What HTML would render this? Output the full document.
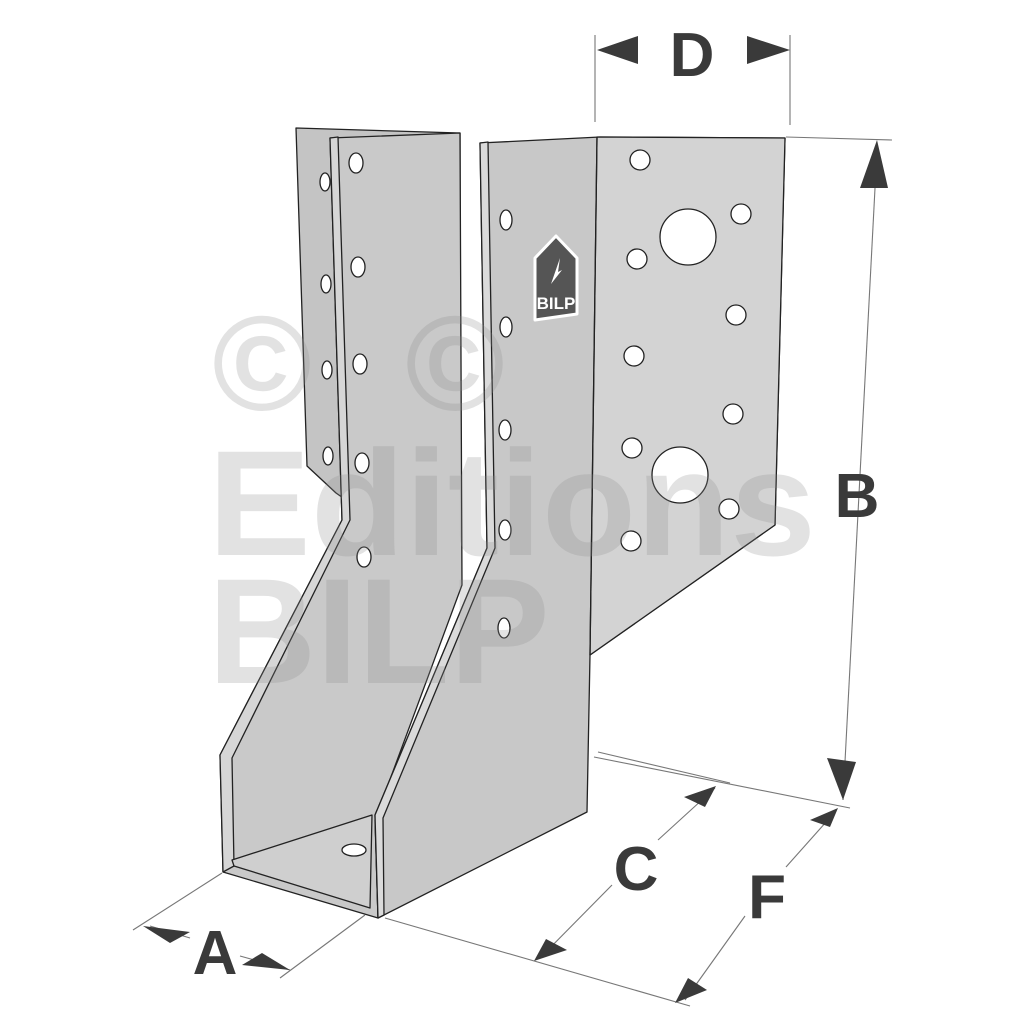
<!DOCTYPE html>
<html><head><meta charset="utf-8"><style>html,body{margin:0;padding:0;background:#fff}svg{display:block}</style></head>
<body>
<svg width="1024" height="1024" viewBox="0 0 1024 1024" xmlns="http://www.w3.org/2000/svg" font-family="Liberation Sans, DejaVu Sans, sans-serif">
<rect width="1024" height="1024" fill="#fff"/>
<g stroke="#222" stroke-width="1.3" stroke-linejoin="round">
<polygon points="296,128 460,133 460,580 336,493 307,466" fill="#c4c4c4"/>
<polygon points="330,138 460,133 462,585 375,820 378,918 223,872 220,755 342,520" fill="#c9c9c9"/>
<polygon points="330,138 338,137 350,520 232,758 234,866 223,872 220,755 342,520" fill="#d6d6d6"/>
<polygon points="234,866 370,908 372,815 232,860" fill="#cfcfcf"/>
<polygon points="480,143 600,137 785,138 775,525 590,655 587,812 378,918 375,815 487,548" fill="#c8c8c8"/>
<polygon points="597,137 785,138 775,525 590,655" fill="#d3d3d3"/>
<polygon points="480,143 488,142 495,548 383,818 384,915 378,918 375,815 487,548" fill="#dadada"/>
<line x1="597" y1="137" x2="590" y2="655"/>
</g>
<g fill="#fff" stroke="#222" stroke-width="1.3">
<ellipse cx="325" cy="182" rx="5" ry="9"/><ellipse cx="326" cy="284" rx="5" ry="9"/><ellipse cx="327" cy="370" rx="5" ry="9"/><ellipse cx="328" cy="456" rx="5" ry="9"/>
<ellipse cx="356" cy="163" rx="7" ry="10"/><ellipse cx="358" cy="267" rx="7" ry="10"/><ellipse cx="360" cy="364" rx="7" ry="10"/><ellipse cx="362" cy="463" rx="7" ry="10"/><ellipse cx="364" cy="557" rx="7" ry="10"/>
<ellipse cx="506" cy="220" rx="6" ry="10"/><ellipse cx="506" cy="327" rx="6" ry="10"/><ellipse cx="505" cy="430" rx="6" ry="10"/><ellipse cx="505" cy="530" rx="6" ry="10"/><ellipse cx="504" cy="628" rx="6" ry="10"/>
<circle cx="640" cy="160" r="10"/><circle cx="688" cy="237" r="28"/><circle cx="741" cy="214" r="10"/><circle cx="637" cy="259" r="10"/><circle cx="736" cy="315" r="10"/><circle cx="634" cy="356" r="10"/><circle cx="733" cy="414" r="10"/><circle cx="632" cy="448" r="10"/><circle cx="680" cy="475" r="28"/><circle cx="729" cy="509" r="10"/><circle cx="631" cy="541" r="10"/>
<ellipse cx="354" cy="850" rx="12" ry="6"/>
</g>
<path d="M535,258 L556,236 L577,258 L577,314 L535,320 Z" fill="#555" stroke="#fff" stroke-width="3" stroke-linejoin="round"/>
<text x="556" y="309" font-size="17" font-weight="bold" fill="#fff" text-anchor="middle">BILP</text>
<path d="M551,284 L560,258 L558,272 L562,270 Z" fill="#fff"/>
<g fill="rgb(140,140,140)" fill-opacity="0.25" font-weight="bold">
<text x="262" y="410" font-size="135" text-anchor="middle">©</text>
<text x="455" y="410" font-size="135" text-anchor="middle">©</text>
<text x="208" y="555" font-size="150" textLength="608" lengthAdjust="spacingAndGlyphs">Editions</text>
<text x="208" y="683" font-size="150">BILP</text>
</g>
<g stroke="#777" stroke-width="1.1" fill="none">
<line x1="595" y1="35" x2="595" y2="122"/><line x1="790" y1="35" x2="790" y2="125"/>
<line x1="786" y1="137" x2="892" y2="140"/>
<line x1="877" y1="150" x2="843" y2="800"/>
<line x1="598" y1="752" x2="730" y2="783"/><line x1="594" y1="757" x2="850" y2="808"/>
<line x1="385" y1="918" x2="690" y2="1006"/>
<line x1="540" y1="958" x2="612" y2="885"/><line x1="658" y1="840" x2="715" y2="788"/>
<line x1="685" y1="1000" x2="745" y2="916"/><line x1="786" y1="867" x2="835" y2="812"/>
<line x1="133" y1="930" x2="222" y2="873"/><line x1="280" y1="978" x2="365" y2="915"/>
<line x1="150" y1="926" x2="190" y2="938"/><line x1="240" y1="956" x2="290" y2="970"/>
</g>
<g fill="#3a3a3a">
<polygon points="597,50 638,36 638,64"/><polygon points="790,50 747,36 747,64"/>
<polygon points="877,140 860,188 888,188"/><polygon points="843,800 827,758 856,762"/>
<polygon points="716,786 684,797 705,807"/><polygon points="534,961 567,950 546,939"/>
<polygon points="838,808 810,820 830,827"/><polygon points="675,1003 707,990 688,978"/>
<polygon points="143,926 190,932 170,943"/><polygon points="290,970 242,965 262,953"/>
</g>
<g fill="#3a3a3a" font-weight="bold" font-size="62">
<text x="692" y="76" text-anchor="middle">D</text>
<text x="857" y="517" text-anchor="middle">B</text>
<text x="636" y="890" text-anchor="middle">C</text>
<text x="767" y="918" text-anchor="middle">F</text>
<text x="215" y="974" text-anchor="middle">A</text>
</g>
</svg>
</body></html>
